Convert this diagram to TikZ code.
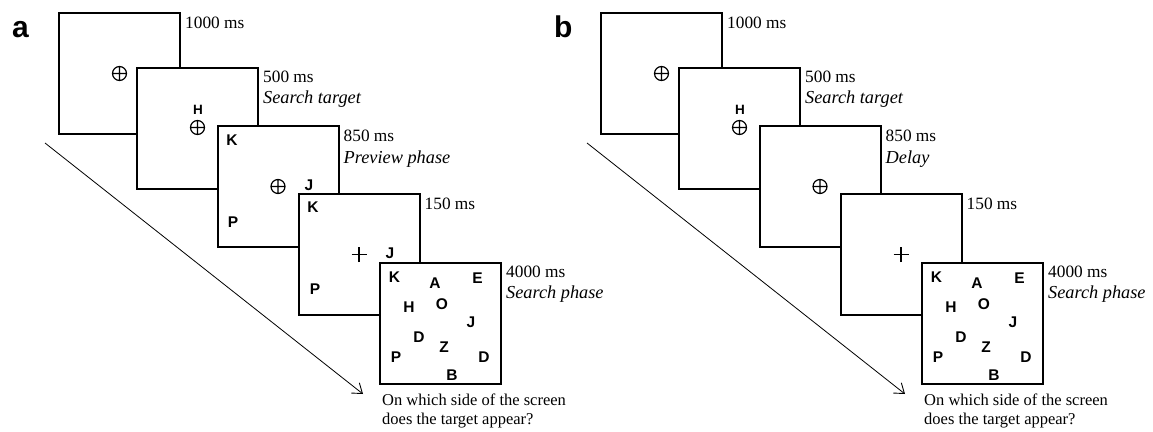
\documentclass[tikz,border=0pt]{standalone}
\usepackage{fontspec}
\setmainfont{Liberation Serif}
\newfontfamily\arialf{Liberation Sans}
\usetikzlibrary{arrows.meta}
\tikzset{
  screen/.style={draw, fill=white, line width=2pt, minimum width=121pt, minimum height=121pt, inner sep=0pt},
  dur/.style={anchor=base west, inner sep=0pt, font=\fontsize{17.3}{20}\selectfont},
  phase/.style={anchor=base west, inner sep=0pt, font=\fontsize{18.3}{20}\selectfont\itshape},
  ltr/.style={inner sep=0pt, font=\arialf\bfseries\fontsize{15.5}{17}\selectfont},
  smallltr/.style={inner sep=0pt, font=\arialf\bfseries\fontsize{13.5}{15}\selectfont},
  question/.style={anchor=base west, inner sep=0pt, font=\fontsize{16.5}{19.5}\selectfont},
  plabel/.style={anchor=base west, inner sep=0pt, font=\arialf\bfseries\fontsize{30}{32}\selectfont},
  flow/.style={line width=0.8pt, -{Straight Barb[length=9pt,width=13pt,line width=0.9pt]}},
  fixmark/.pic={\draw[line width=1.2pt] (0,0) circle (7pt) (-7pt,0) -- (7pt,0) (0,-7pt) -- (0,7pt);},
  crossmark/.pic={\draw[line width=1.1pt] (-7.5pt,0) -- (7.5pt,0) (0,-7.5pt) -- (0,7.5pt);}
}
% #1 prefix, #2 xshift, #3 phase label of screen 3, #4 letters on screen 3, #5 letters on screen 4
\newcommand\drawpanel[5]{%
\begin{scope}[xshift=#2pt]
  \node[plabel] (#1lab) at (12,37) {#1};
  \coordinate (#1s) at (45,143);
  \coordinate (#1e) at (363,394);
  \draw[flow] (#1s) -- (#1e);
  % screen 1
  \node[screen] (#11) at (119.5,73.5) {};
  \pic at (#11.center) {fixmark};
  \node[dur] (#1d1) at ([shift={(4,16)}]#11.north east) {1000 ms};
  % screen 2
  \node[screen] (#12) at (197.5,128.5) {};
  \pic at ([shift={(0,-1)}]#12.center) {fixmark};
  \node[smallltr] (#12H) at ([shift={(0.5,-18.5)}]#12.center) {H};
  \node[dur] (#1d2) at ([shift={(4,15)}]#12.north east) {500 ms};
  \node[phase] (#1p2) at ([shift={(0,21)}]#1d2.base west) {Search target};
  % screen 3
  \node[screen] (#13) at (278,186.5) {};
  \pic at (#13.center) {fixmark};
  #4
  \node[dur] (#1d3) at ([shift={(4,16)}]#13.north east) {850 ms};
  \node[phase] (#1p3) at ([shift={(0,22)}]#1d3.base west) {#3};
  % screen 4
  \node[screen] (#14) at (359,254.5) {};
  \pic at (#14.center) {crossmark};
  #5
  \node[dur] (#1d4) at ([shift={(4,16)}]#14.north east) {150 ms};
  % screen 5
  \node[screen] (#15) at (440.5,323) {};
  \node[ltr] (#15K) at ([shift={(-46,-46)}]#15.center) {K};
  \node[ltr] (#15A) at ([shift={(-5.5,-40)}]#15.center) {A};
  \node[ltr] (#15E) at ([shift={(37,-45)}]#15.center) {E};
  \node[ltr] (#15H) at ([shift={(-31.5,-16)}]#15.center) {H};
  \node[ltr] (#15O) at ([shift={(1.5,-19)}]#15.center) {O};
  \node[ltr] (#15J) at ([shift={(30.5,-1)}]#15.center) {J};
  \node[ltr] (#15D) at ([shift={(-21.5,14)}]#15.center) {D};
  \node[ltr] (#15Z) at ([shift={(3.5,24)}]#15.center) {Z};
  \node[ltr] (#15P) at ([shift={(-44.5,34)}]#15.center) {P};
  \node[ltr] (#15DD) at ([shift={(43.5,34)}]#15.center) {D};
  \node[ltr] (#15B) at ([shift={(11.5,52)}]#15.center) {B};
  \node[dur] (#1d5) at ([shift={(4,16)}]#15.north east) {4000 ms};
  \node[phase] (#1p5) at ([shift={(0,21)}]#1d5.base west) {Search phase};
  \node[question] (#1q1) at ([shift={(3,21)}]#15.south west) {On which side of the screen};
  \node[question] (#1q2) at ([shift={(0,19)}]#1q1.base west) {does the target appear?};
\end{scope}}

\begin{document}
\begin{tikzpicture}[x=1pt, y=-1pt]
  \useasboundingbox (0,0) rectangle (1153,431);
  \drawpanel{a}{0}{Preview phase}{%
    \node[ltr] (a3K) at ([shift={(-46,-46.5)}]a3.center) {K};
    \node[ltr] (a3J) at ([shift={(31,-1.5)}]a3.center) {J};
    \node[ltr] (a3P) at ([shift={(-45,35.5)}]a3.center) {P};}{%
    \node[ltr] (a4K) at ([shift={(-46,-47.5)}]a4.center) {K};
    \node[ltr] (a4J) at ([shift={(31,-1.5)}]a4.center) {J};
    \node[ltr] (a4P) at ([shift={(-44,34.5)}]a4.center) {P};}
  \drawpanel{b}{542}{Delay}{}{}
\end{tikzpicture}
\end{document}
